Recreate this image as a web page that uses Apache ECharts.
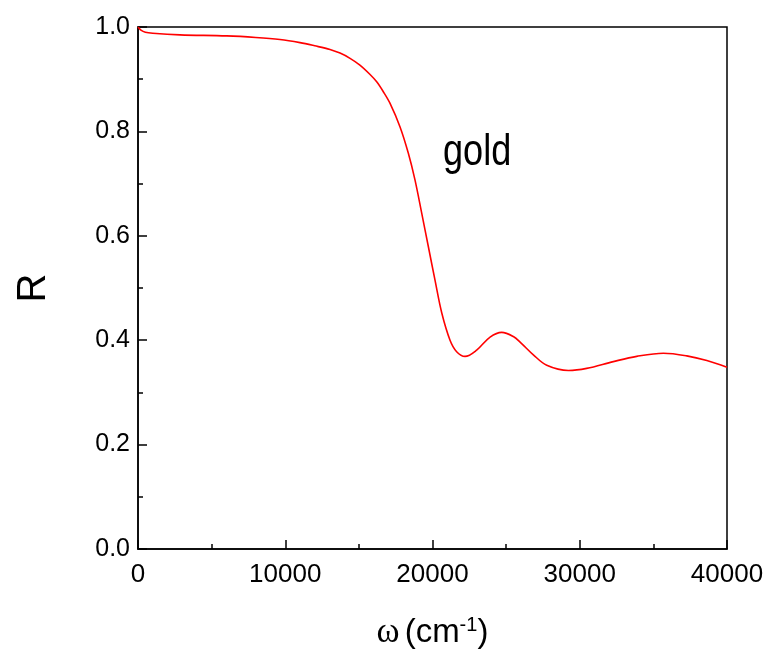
<!DOCTYPE html>
<html>
<head>
<meta charset="utf-8">
<script src="https://cdn.jsdelivr.net/npm/echarts@6/dist/echarts.min.js"></script>
<style>html,body{margin:0;padding:0;background:#fff}#c{width:771px;height:651px}</style>
</head>
<body>
<div id="c"></div>
<script>
const omega = [0, 200, 500, 1000, 2850, 6020, 8000, 9640, 11000, 12000, 13040, 13720, 14400, 15070, 15760, 16210, 16660, 17110, 17790, 18360, 18810, 19270, 19720, 20170, 20630, 21190, 21640, 22210, 23000, 23910, 24700, 25490, 26000, 26850, 27760, 29230, 30470, 32280, 33870, 35680, 37270, 38630, 40000];
const reflect = [1.0, 0.994, 0.990, 0.988, 0.985, 0.983, 0.980, 0.976, 0.970, 0.964, 0.957, 0.950, 0.940, 0.927, 0.909, 0.895, 0.876, 0.854, 0.809, 0.758, 0.707, 0.643, 0.579, 0.515, 0.452, 0.400, 0.378, 0.369, 0.381, 0.406, 0.415, 0.407, 0.395, 0.372, 0.352, 0.342, 0.346, 0.359, 0.369, 0.375, 0.370, 0.361, 0.348];
const xTicks = [0, 10000, 20000, 30000, 40000];
const yTicks = [0.0, 0.2, 0.4, 0.6, 0.8, 1.0];
const seriesLabel = 'gold';

const FONT = '"Liberation Sans", Arial, sans-serif';
const chart = echarts.init(document.getElementById('c'));
const axisLine = {lineStyle: {color: '#000', width: 1.5}};
chart.setOption({
  animation: false,
  grid: {left: 138, right: 44, top: 27, bottom: 102, show: true, borderColor: '#000', borderWidth: 1.5,
         containLabel: false, outerBoundsMode: 'none'},
  xAxis: {
    type: 'value', min: 0, max: 40000, interval: 10000,
    axisLine: axisLine,
    axisTick: {inside: true, length: 9, lineStyle: {color: '#000', width: 1.5}},
    minorTick: {show: true, splitNumber: 2, length: 5, lineStyle: {color: '#000', width: 1.5}},
    splitLine: {show: false},
    axisLabel: {color: '#000', fontFamily: FONT, fontSize: 26, margin: 13,
      formatter: v => xTicks.includes(v) ? String(v) : ''},
    name: '{w|ω}{p|(cm}{s|-1}{p|)}',
    nameLocation: 'middle', nameGap: 66,
    nameTextStyle: {rich: {
      w: {fontFamily: 'Liberation Serif', fontSize: 35, color: '#000', padding: [0, 5, 0, 0]},
      p: {fontFamily: FONT, fontSize: 33, color: '#000'},
      s: {fontFamily: FONT, fontSize: 20, color: '#000', verticalAlign: 'top', padding: [0, 0, 16, 0]}
    }}
  },
  yAxis: {
    type: 'value', min: 0, max: 1.0, interval: 0.2,
    axisLine: axisLine,
    axisTick: {inside: true, length: 9, lineStyle: {color: '#000', width: 1.5}},
    minorTick: {show: true, splitNumber: 2, length: 5, lineStyle: {color: '#000', width: 1.5}},
    splitLine: {show: false},
    axisLabel: {color: '#000', fontFamily: FONT, fontSize: 25, margin: 8,
      formatter: v => v.toFixed(1)},
    name: 'R', nameLocation: 'middle', nameGap: 84, nameRotate: 90,
    nameTextStyle: {fontFamily: FONT, fontSize: 40, color: '#000'}
  },
  series: [{
    type: 'line', name: seriesLabel, smooth: 0.35, showSymbol: false,
    lineStyle: {color: '#ff0000', width: 1.6},
    data: omega.map((x, i) => [x, reflect[i]])
  }],
  graphic: [{
    type: 'text', x: 443, y: 131, scaleX: 0.82,
    style: {text: seriesLabel, font: '44px "Liberation Sans"', fill: '#000', verticalAlign: 'top'}
  }]
});
</script>
</body>
</html>
